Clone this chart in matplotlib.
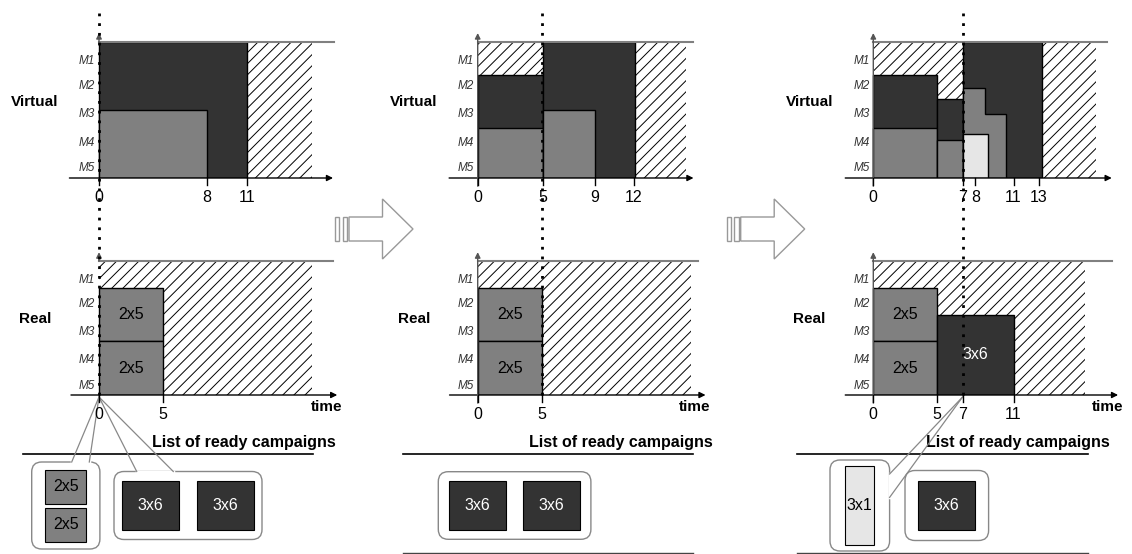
"""
plot.py - virtual vs real schedule, three steps
"""
import matplotlib
matplotlib.use("Agg")
import matplotlib.pyplot as plt
from matplotlib.patches import Rectangle, Polygon, FancyBboxPatch

plt.rcParams["font.family"] = ["Liberation Sans", "DejaVu Sans"]
plt.rcParams["hatch.linewidth"] = 0.7

# ── Data ──────────────────────────────────────────────────────────────
MACHINES = ["M1", "M2", "M3", "M4", "M5"]
NOW = [0, 5, 7]          # current time of each step

# virtual (fluid) schedule: (kind, t0, t1, m0, m1)
VIRTUAL_BLOCKS = [
    [("free", 11, 15.8, 0, 5), ("dark", 0, 11, 0, 5), ("gray", 0, 8, 0, 2.5)],
    [("free", 0, 5, 3.8, 5), ("dark", 0, 5, 0, 3.8), ("gray", 0, 5, 0, 1.85),
     ("dark", 5, 12.1, 0, 5), ("gray", 5, 9, 0, 2.5), ("free", 12.1, 16.0, 0, 5)],
    [("free", 0, 7, 0, 5), ("dark", 0, 5, 0, 3.8), ("gray", 0, 5, 0, 1.85),
     ("dark", 5, 7, 0, 2.9), ("gray", 5, 7, 0, 1.4), ("dark", 7, 13.25, 0, 5),
     ("steps", [(7, 8.8, 3.3), (8.8, 10.4, 2.35)]),
     ("light", 7, 9, 0, 1.6), ("free", 13.25, 17.5, 0, 5)],
]
VIRTUAL_TICKS = [[0, 8, 11], [0, 5, 9, 12], [0, 7, 8, 11, 13]]

# real schedule: (kind, t0, t1, m0, m1, label)
REAL_BLOCKS = [
    [("free", 0, 16.7, 0, 5), ("gray", 0, 5, 2, 4, "2x5"), ("gray", 0, 5, 0, 2, "2x5")],
    [("free", 0, 16.7, 0, 5), ("gray", 0, 5, 2, 4, "2x5"), ("gray", 0, 5, 0, 2, "2x5")],
    [("free", 0, 16.6, 0, 5), ("gray", 0, 5, 2, 4, "2x5"), ("gray", 0, 5, 0, 2, "2x5"),
     ("dark", 5, 11, 0, 3, "3x6")],
]
REAL_TICKS = [[0, 5], [0, 5], [0, 5, 7, 11]]

# ready campaigns, grouped
READY = [
    [["2x5", "2x5"], ["3x6", "3x6"]],
    [["3x6", "3x6"]],
    [["3x1"], ["3x6"]],
]

# ── Layout / style ────────────────────────────────────────────────────
W, H = 1132, 554
PANEL_X0 = [99, 477.7, 873.3]
V_SCALE = [13.45, 13.0, 12.75]
R_SCALE = [12.74, 12.8, 12.75]
V_TOP, V_BOT = 42, 178
R_TOP, R_BOT = 261, 395
V_XEND = [17.4, 16.6, 18.7]
V_LINE_END = [17.5, 16.6, 18.3]
R_XEND = [18.7, 17.8, 19.2]
R_LINE_END = [18.4, 17.2, 18.7]
X_START = -2.2
M_POS = [4.3, 3.4, 2.35, 1.3, 0.35]

FILL = {"dark": "#333333", "gray": "#808080", "light": "#e6e6e6"}
TXT = {"dark": "white", "gray": "black", "light": "black"}
KIND_OF = {"2x5": "gray", "3x6": "dark", "3x1": "light"}
ITEM_SIZE = {"2x5": (41, 34), "3x6": (57, 49), "3x1": (29, 79)}

# group boxes: (left, direction, pad_x, pad_y, gap)
GROUP_BOX = [
    [(31.7, "v", 13.6, 7.5, 4), (114, "h", 8, 9.5, 18)],
    [(438.3, "h", 11, 9.3, 16.6)],
    [(830, "v", 15.3, 6, 0), (905, "h", 13.3, 10.5, 0)],
]
GROUP_YC = 505.5
CALLOUTS = [(0, 0, "top", 40, 57.6), (0, 1, "top", 22.7, 59.3), (2, 0, "right", 14, 37.4)]
ARROW_X = [335, 726.7]
LIST_TEXT_RIGHT = [336, 713, 1110]
LIST_LINE = [(23, 313), (403, 693), (797, 1088)]
LIST_BOTTOM = [False, True, True]

fig = plt.figure(figsize=(W / 100, H / 100), dpi=100)
fig.patch.set_facecolor("white")

ov = fig.add_axes([0, 0, 1, 1])
ov.set_xlim(0, W)
ov.set_ylim(H, 0)
ov.axis("off")


def add_panel(x0, scale, top, bot, xend):
    left = x0 + X_START * scale
    ax = fig.add_axes([left / W, 1 - bot / H, (xend - X_START) * scale / W, (bot - top) / H])
    ax.set_xlim(X_START, xend)
    ax.set_ylim(0, 5)
    ax.axis("off")
    ax.set_facecolor("none")
    return ax


def draw_blocks(ax, blocks):
    for blk in blocks:
        kind = blk[0]
        if kind == "free":
            _, t0, t1, m0, m1 = blk
            ax.add_patch(Rectangle((t0, m0), t1 - t0, m1 - m0, facecolor="white",
                                   edgecolor="black", lw=0, hatch="///", zorder=1))
        elif kind == "steps":
            steps = blk[1]
            pts = [(steps[0][0], 0)]
            for t0, t1, h in steps:
                pts += [(t0, h), (t1, h)]
            pts.append((steps[-1][1], 0))
            ax.add_patch(Polygon(pts, closed=True, facecolor=FILL["gray"],
                                 edgecolor="black", lw=1, zorder=2))
        else:
            t0, t1, m0, m1 = blk[1:5]
            ax.add_patch(Rectangle((t0, m0), t1 - t0, m1 - m0, facecolor=FILL[kind],
                                   edgecolor="black", lw=1, zorder=2))
            if len(blk) > 5:
                ax.text((t0 + t1) / 2, (m0 + m1) / 2, blk[5], ha="center", va="center",
                        fontsize=11.5, color=TXT[kind], zorder=3)


def draw_axes(ax, ticks, line_end, xend, yaxis=True):
    ax.plot([0, line_end], [5, 5], color="#808080", lw=1.5, zorder=3, clip_on=False)
    ax.annotate("", xy=(xend, 0), xytext=(X_START, 0),
                arrowprops=dict(arrowstyle="-|>", color="black", lw=1,
                                mutation_scale=9, shrinkA=0, shrinkB=0),
                annotation_clip=False, zorder=4)
    y0 = -0.3 if yaxis else 5.0
    ax.annotate("", xy=(0, 5.33), xytext=(0, y0),
                arrowprops=dict(arrowstyle="-|>", color="#555555", lw=1,
                                mutation_scale=8, shrinkA=0, shrinkB=0),
                annotation_clip=False, zorder=4)
    for t in ticks:
        ax.plot([t, t], [0, -0.25], color="black", lw=1, clip_on=False, zorder=4)
        ax.text(t, -0.72, str(t), ha="center", va="center", fontsize=11.5, clip_on=False)
    for name, m in zip(MACHINES, M_POS):
        ax.text(-0.3, m, name, ha="right", va="center", fontsize=8.5,
                style="italic", color="#333333", clip_on=False)


v_axes, r_axes = [], []
for i in range(3):
    x0 = PANEL_X0[i]
    av = add_panel(x0, V_SCALE[i], V_TOP, V_BOT, V_XEND[i])
    draw_blocks(av, VIRTUAL_BLOCKS[i])
    draw_axes(av, VIRTUAL_TICKS[i], V_LINE_END[i], V_XEND[i], yaxis=NOW[i] > 0)
    ar = add_panel(x0, R_SCALE[i], R_TOP, R_BOT, R_XEND[i])
    draw_blocks(ar, REAL_BLOCKS[i])
    draw_axes(ar, REAL_TICKS[i], R_LINE_END[i], R_XEND[i], yaxis=NOW[i] > 0)
    ar.text(R_XEND[i] + 0.4, -0.45, "time", ha="right", va="center",
            fontsize=11, fontweight="bold", clip_on=False)
    v_axes.append(av)
    r_axes.append(ar)

    ov.text(x0 - 64, 102, "Virtual", ha="center", va="center", fontsize=11, fontweight="bold")
    ov.text(x0 - 64, 319, "Real", ha="center", va="center", fontsize=11, fontweight="bold")


def to_ov(ax, t, m):
    disp = ax.transData.transform((t, m))
    return ov.transData.inverted().transform(disp)


# ── Transition arrows ────────────────────────────────────────────────
for x0 in ARROW_X:
    for bx in (x0, x0 + 7.6):
        ov.add_patch(Rectangle((bx, 217), 4.3, 24, facecolor="white",
                               edgecolor="#999999", lw=1))
    body = [(x0 + 14, 217), (x0 + 47.5, 217), (x0 + 47.5, 199), (x0 + 78, 229),
            (x0 + 47.5, 259), (x0 + 47.5, 241), (x0 + 14, 241)]
    ov.add_patch(Polygon(body, closed=True, facecolor="white", edgecolor="#999999", lw=1))

# ── Lists of ready campaigns ─────────────────────────────────────────
box_rects = []
for i in range(3):
    ov.text(LIST_TEXT_RIGHT[i], 442, "List of ready campaigns", ha="right", va="center",
            fontsize=11.5, fontweight="bold")
    ov.plot(LIST_LINE[i], [454, 454], color="black", lw=1.2)
    if LIST_BOTTOM[i]:
        ov.plot(LIST_LINE[i], [552.5, 552.5], color="#444444", lw=1)

    rects = []
    for group, (left, direc, px, py, gap) in zip(READY[i], GROUP_BOX[i]):
        sizes = [ITEM_SIZE[c] for c in group]
        if direc == "v":
            iw = max(s[0] for s in sizes)
            ih = sum(s[1] for s in sizes) + gap * (len(sizes) - 1)
        else:
            iw = sum(s[0] for s in sizes) + gap * (len(sizes) - 1)
            ih = max(s[1] for s in sizes)
        bw, bh = iw + 2 * px, ih + 2 * py
        by = GROUP_YC - bh / 2
        ov.add_patch(FancyBboxPatch((left, by), bw, bh,
                                    boxstyle="round,pad=0,rounding_size=10",
                                    facecolor="white", edgecolor="#888888", lw=1, zorder=2))
        rects.append((left, by, bw, bh))
        cx, cy = left + px, by + py
        for c, (w, h) in zip(group, sizes):
            if direc == "v":
                x, y = left + px + (iw - w) / 2, cy
                cy += h + gap
            else:
                x, y = cx, GROUP_YC - h / 2
                cx += w + gap
            kind = KIND_OF[c]
            ov.add_patch(Rectangle((x, y), w, h, facecolor=FILL[kind],
                                   edgecolor="black", lw=0.8, zorder=3))
            ov.text(x + w / 2, y + h / 2, c, ha="center", va="center",
                    fontsize=11.5, color=TXT[kind], zorder=4)
    box_rects.append(rects)

for pi, gi, side, a, b in CALLOUTS:
    bx, by, bw, bh = box_rects[pi][gi]
    if side == "top":
        p1, p2 = (bx + a, by), (bx + b, by)
    else:
        p1, p2 = (bx + bw, by + a), (bx + bw, by + b)
    apex_x, _ = to_ov(r_axes[pi], NOW[pi], 0)
    apex_y = R_BOT + 2
    ov.plot([p1[0], p2[0]], [p1[1], p2[1]], color="white", lw=2.5, zorder=3)
    for p in (p1, p2):
        ov.plot([p[0], apex_x], [p[1], apex_y], color="#888888", lw=0.9, zorder=3)

# ── Current-time dotted lines (on top of everything) ─────────────────
top = fig.add_axes([0, 0, 1, 1])
top.set_xlim(0, W)
top.set_ylim(H, 0)
top.axis("off")
top.set_facecolor("none")
for i in range(3):
    x, _ = to_ov(r_axes[i], NOW[i], 0)
    top.plot([x, x], [13, 398], color="black", lw=2, linestyle=(0, (1, 2.5)))

fig.savefig("out.png", dpi=100, facecolor="white")
